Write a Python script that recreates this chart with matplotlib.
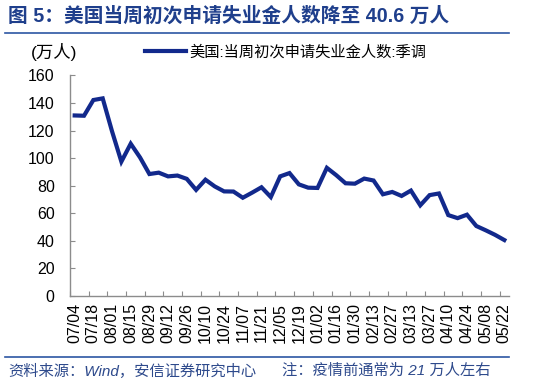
import matplotlib
matplotlib.use("Agg")
import matplotlib.pyplot as plt
from matplotlib.lines import Line2D

plt.rcParams['font.family'] = ['Liberation Sans', 'Noto Sans CJK SC', 'DejaVu Sans']

# 美国当周初次申请失业金人数（季调，万人），2020/07/04 - 2021/05/22 每周
weeks = ['07/04', '07/11', '07/18', '07/25', '08/01', '08/08', '08/15', '08/22',
         '08/29', '09/05', '09/12', '09/19', '09/26', '10/03', '10/10', '10/17',
         '10/24', '10/31', '11/07', '11/14', '11/21', '11/28', '12/05', '12/12',
         '12/19', '12/26', '01/02', '01/09', '01/16', '01/23', '01/30', '02/06',
         '02/13', '02/20', '02/27', '03/06', '03/13', '03/20', '03/27', '04/03',
         '04/10', '04/17', '04/24', '05/01', '05/08', '05/15', '05/22']
claims = [131.0, 130.8, 142.2, 143.4, 119.5, 97.5, 110.5, 100.5,
          88.5, 89.5, 86.8, 87.4, 85.0, 77.0, 84.4, 79.5,
          75.9, 75.8, 71.3, 75.0, 78.9, 71.8, 86.8, 89.2,
          81.0, 78.6, 78.4, 93.0, 87.7, 81.8, 81.5, 85.2,
          83.8, 73.8, 75.5, 72.6, 76.5, 65.8, 73.2, 74.4,
          58.7, 56.5, 59.0, 50.8, 47.7, 44.4, 40.6]
yticks = [0, 20, 40, 60, 80, 100, 120, 140, 160]

title = '图 5：美国当周初次申请失业金人数降至 40.6 万人'
series_name = '美国:当周初次申请失业金人数:季调'
unit = '(万人)'
source = '资料来源：Wind，安信证券研究中心'
note = '注：疫情前通常为 21 万人左右'

W, H = 550, 386
title_color = '#1f3f8c'
line_color = '#12298c'
axis_color = '#8c8c8c'

fig = plt.figure(figsize=(W / 100, H / 100), dpi=100)
ax = fig.add_axes([70 / W, 1 - 296 / H, 439 / W, 220.5 / H])

x = list(range(len(weeks)))
ax.plot(x, claims, color=line_color, lw=3.0, solid_joinstyle='miter',
        label=series_name)

ax.set_xlim(-0.5, len(weeks) - 0.5)
ax.set_ylim(0, 160)
ax.set_yticks(yticks)
ax.set_yticklabels([str(v) for v in yticks])

# category axis: tick marks every two weeks on boundaries, labels on every other week
ax.set_xticks([i - 0.5 for i in range(0, len(weeks), 2)])
ax.set_xticklabels([])
ax.set_xticks(x[::2], minor=True)
ax.set_xticklabels(weeks[::2], minor=True, rotation=90, fontsize=11.5)
ax.tick_params(axis='x', which='minor', length=0, pad=5)
ax.tick_params(axis='x', which='major', direction='in', length=3.5,
               color=axis_color, width=0.8)
ax.tick_params(axis='y', direction='in', length=3.5, color=axis_color,
               width=0.8, labelsize=11.5, pad=11)

for s in ['top', 'right']:
    ax.spines[s].set_visible(False)
for s in ['left', 'bottom']:
    ax.spines[s].set_color(axis_color)
    ax.spines[s].set_linewidth(1.0)

ax.legend(loc='center left', bbox_to_anchor=(145 / W, 1 - 52 / H),
          bbox_transform=fig.transFigure, frameon=False, fontsize=11,
          handlelength=2.7, handletextpad=0.2, borderpad=0, borderaxespad=0)

fig.text(31 / W, 1 - 52 / H, unit, fontsize=12.5, va='center', ha='left')

fig.text(8 / W, 1 - 16 / H, title, fontsize=14.2, fontweight='bold',
         color=title_color, va='center', ha='left')
fig.add_artist(Line2D([5 / W, 509 / W], [1 - 33 / H, 1 - 33 / H],
                      color='#2c56a3', lw=1.2, transform=fig.transFigure))
fig.add_artist(Line2D([5 / W, 509 / W], [1 - 357 / H, 1 - 357 / H],
                      color='#2c56a3', lw=1.2, transform=fig.transFigure))
fig.text(8 / W, 1 - 371 / H, source, fontsize=11, style='italic',
         color='#2e4a8c', va='center', ha='left')
fig.text(282 / W, 1 - 371 / H, note, fontsize=11, style='italic',
         color='#2e4a8c', va='center', ha='left')

fig.savefig('out.png', dpi=100)
